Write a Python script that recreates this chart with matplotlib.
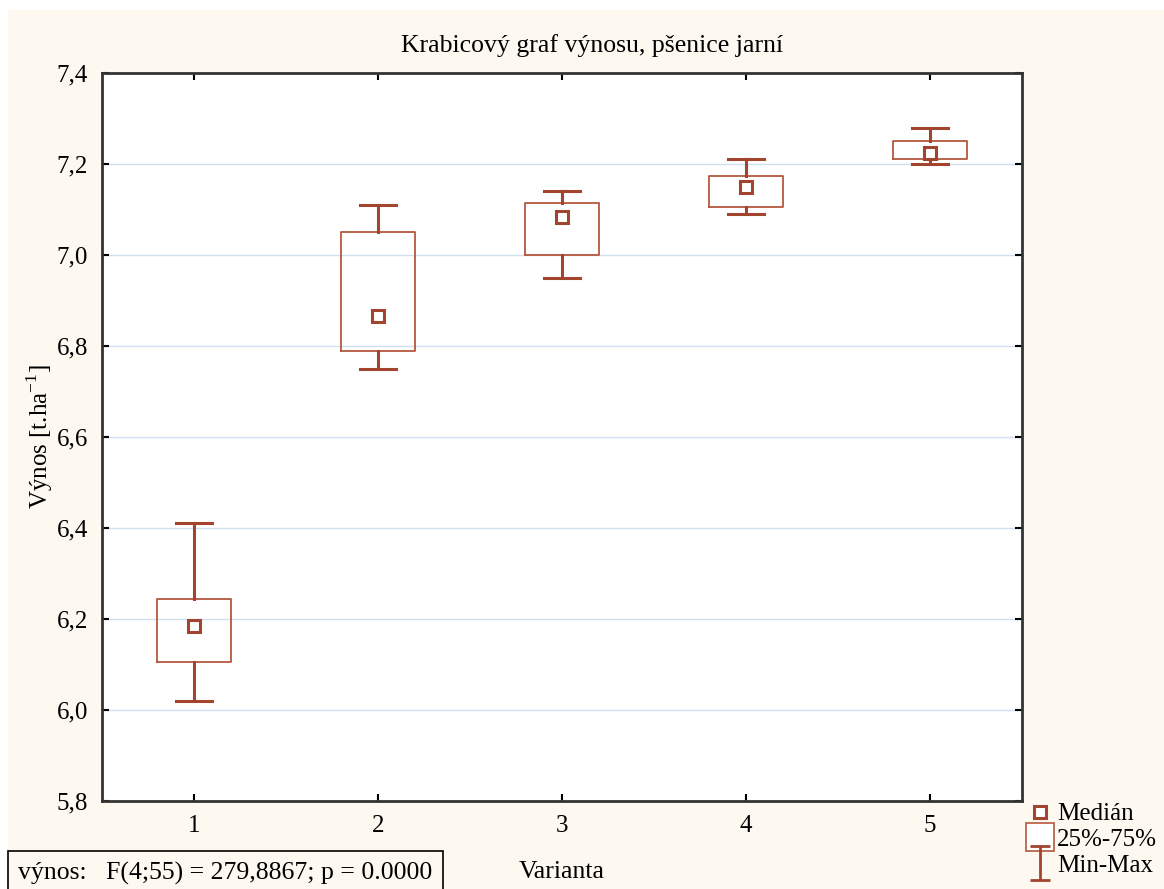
import matplotlib
matplotlib.use("Agg")
import matplotlib.pyplot as plt
from matplotlib.lines import Line2D
from matplotlib.patches import Rectangle
from matplotlib.path import Path

varianty = [1, 2, 3, 4, 5]
minima = [6.02, 6.75, 6.95, 7.09, 7.20]
kvartil1 = [6.105, 6.79, 7.0, 7.105, 7.21]
mediany = [6.185, 6.867, 7.083, 7.149, 7.224]
kvartil3 = [6.245, 7.05, 7.114, 7.173, 7.25]
maxima = [6.41, 7.11, 7.14, 7.21, 7.28]

y_ticky = [5.8, 6.0, 6.2, 6.4, 6.6, 6.8, 7.0, 7.2, 7.4]
y_popisky = ["5,8", "6,0", "6,2", "6,4", "6,6", "6,8", "7,0", "7,2", "7,4"]

barva = "#a3442e"
barva_box = "#b5583e"
krem = "#fdf9f1"

plt.rcParams["font.family"] = ["Liberation Serif", "DejaVu Serif"]
plt.rcParams["mathtext.fontset"] = "custom"
plt.rcParams["mathtext.rm"] = "Liberation Serif"

fig = plt.figure(figsize=(11.64, 8.89), dpi=100, facecolor="white")
fig.add_artist(Rectangle((8 / 1164, 0), 1, (889 - 10) / 889, transform=fig.transFigure,
                         facecolor=krem, edgecolor="none", zorder=-10))
ax = fig.add_axes([102 / 1164, 88 / 889, 920 / 1164, 728 / 889])
ax.set_facecolor("white")

staty = []
for i in range(len(varianty)):
    staty.append({"med": mediany[i], "q1": kvartil1[i], "q3": kvartil3[i],
                  "whislo": minima[i], "whishi": maxima[i], "fliers": []})

ax.bxp(staty, positions=varianty, widths=0.4, capwidths=0.2, showfliers=False,
       boxprops=dict(color=barva_box, linewidth=1.3),
       whiskerprops=dict(color=barva, linewidth=2.2),
       capprops=dict(color=barva, linewidth=2.2),
       medianprops=dict(visible=False))
ax.plot(varianty, mediany, ls="none", marker="s", ms=8, mfc="white", mec=barva, mew=2.2, zorder=5)

ax.set_xlim(0.5, 5.5)
ax.set_ylim(5.8, 7.4)
ax.set_yticks(y_ticky)
ax.set_yticklabels(y_popisky)
ax.set_xticks(varianty)
ax.set_xticklabels([str(v) for v in varianty])
ax.grid(axis="y", color="#cfe0f0", linewidth=1)
ax.set_axisbelow(True)
ax.tick_params(direction="in", top=True, right=True, labelsize=18, length=5, width=1.5, pad=10)
for s in ax.spines.values():
    s.set_linewidth(2)
    s.set_color("#333333")

fig.text(592 / 1164, 1 - 46 / 889, "Krabicový graf výnosu, pšenice jarní", fontsize=18.5,
         ha="center", va="center")
ax.set_ylabel("Výnos [t.ha$^{\\mathregular{-1}}$]", fontsize=18, labelpad=1)
fig.text(562 / 1164, 1 - 872 / 889, "Varianta", fontsize=18.5, ha="center", va="center")

fig.text(18 / 1164, 1 - 873 / 889, "výnos:   F(4;55) = 279,8867; p = 0.0000", fontsize=18.5,
         ha="left", va="center",
         bbox=dict(boxstyle="square,pad=0.4", facecolor=krem, edgecolor="black", linewidth=1.2))

ibeam = Path([(-0.6, 1), (0.6, 1), (0, 1), (0, -1), (-0.6, -1), (0.6, -1)],
             [Path.MOVETO, Path.LINETO, Path.MOVETO, Path.LINETO, Path.MOVETO, Path.LINETO])
handles = [
    Line2D([], [], ls="none", marker="s", ms=8, mfc="white", mec=barva, mew=2.2),
    Line2D([], [], ls="none", marker="s", ms=20, mfc="white", mec=barva_box, mew=1.2),
    Line2D([], [], ls="none", marker=ibeam, ms=24, mec=barva, mew=2),
]
fig.legend(handles, ["Medián", "25%-75%", "Min-Max"], loc="lower left",
           bbox_to_anchor=(1016 / 1164, 0.0), frameon=False, fontsize=18,
           handlelength=0.9, handletextpad=0.25, labelspacing=0.12, borderaxespad=0.1)

fig.savefig("out.png", dpi=100, facecolor=fig.get_facecolor())
